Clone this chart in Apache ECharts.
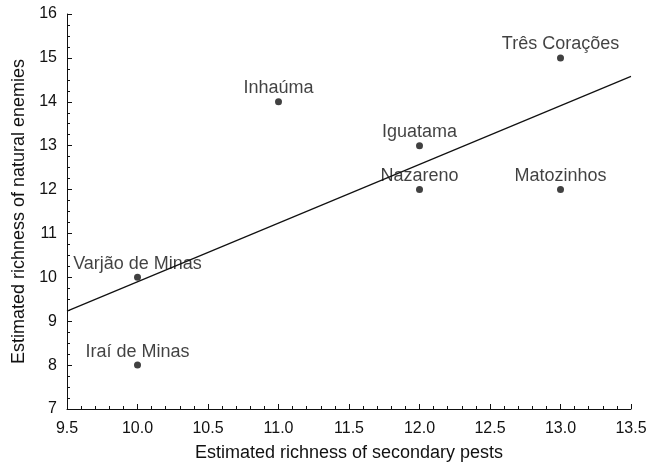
<!DOCTYPE html>
<html>
<head>
<meta charset="utf-8">
<script src="https://cdn.jsdelivr.net/npm/echarts@6/dist/echarts.min.js"></script>
<style>
  html, body { margin: 0; padding: 0; background: #fff; }
  #chart { width: 662px; height: 467px; }
</style>
</head>
<body>
<div id="chart"></div>
<script>
// sites and their estimated richness
const sites = ['Varjão de Minas', 'Iraí de Minas', 'Inhaúma', 'Iguatama', 'Nazareno', 'Matozinhos', 'Três Corações'];
const pests = [10, 10, 11, 12, 12, 13, 13];
const enemies = [10, 8, 14, 13, 12, 12, 15];

// fitted regression line, read at the axis ends
const fitX = [9.5, 13.5];
const fitY = [9.23, 14.58];

const ink = '#111';
const font = '"Liberation Sans", Arial, sans-serif';

const chart = echarts.init(document.getElementById('chart'));

const axisCommon = {
    axisLine: { show: true, lineStyle: { color: ink, width: 1 } },
    axisTick: { show: true, inside: true, length: 5, lineStyle: { color: ink } },
    minorTick: { show: true, length: 3, lineStyle: { color: ink } },
    splitLine: { show: false },
    axisLabel: { color: ink, fontSize: 16, fontFamily: font },
    nameLocation: 'middle',
    nameTextStyle: { color: ink, fontSize: 18, fontFamily: font }
};

chart.setOption({
    backgroundColor: '#fff',
    animation: false,
    grid: { left: 67, right: 31, top: 14, bottom: 56 },
    xAxis: Object.assign({}, axisCommon, {
        type: 'value',
        min: 9.5,
        max: 13.5,
        interval: 0.5,
        name: 'Estimated richness of secondary pests',
        nameGap: 35,
        minorTick: Object.assign({}, axisCommon.minorTick, { splitNumber: 5 }),
        axisLabel: Object.assign({}, axisCommon.axisLabel, {
            margin: 12,
            formatter: v => v.toFixed(1)
        })
    }),
    yAxis: Object.assign({}, axisCommon, {
        type: 'value',
        min: 7,
        max: 16,
        interval: 1,
        name: 'Estimated richness of natural enemies',
        nameGap: 32,
        minorTick: Object.assign({}, axisCommon.minorTick, { splitNumber: 4 }),
        axisLabel: Object.assign({}, axisCommon.axisLabel, { margin: 10 })
    }),
    series: [
        {
            type: 'line',
            data: fitX.map((x, i) => [x, fitY[i]]),
            symbol: 'none',
            lineStyle: { color: ink, width: 1.2 },
            z: 1
        },
        {
            type: 'scatter',
            data: pests.map((x, i) => ({ value: [x, enemies[i]], name: sites[i] })),
            symbolSize: 7,
            itemStyle: { color: ink },
            label: {
                show: true,
                position: 'top',
                distance: 1,
                formatter: p => p.name,
                color: ink,
                fontSize: 18,
                fontFamily: font
            },
            z: 2
        }
    ]
});
</script>
</body>
</html>
